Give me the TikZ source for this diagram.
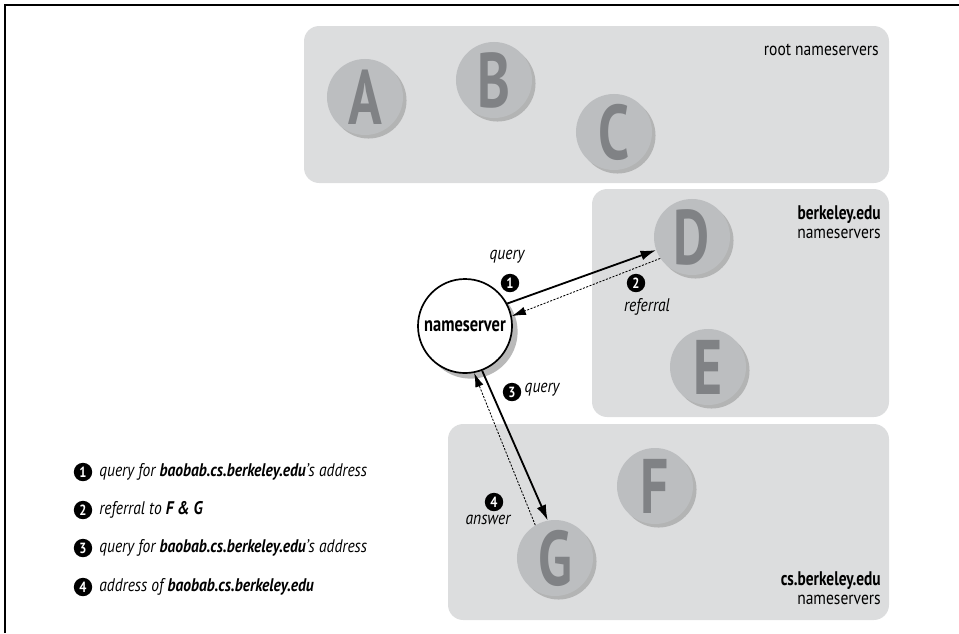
\documentclass[tikz,border=0pt]{standalone}
\usepackage{fontspec}
\setmainfont{PT Sans}[FakeStretch=0.85]
\newfontfamily\letterfont{PT Sans}[FakeStretch=0.72]
\newfontfamily\zonefont{PT Sans}[FakeStretch=0.78]
\usepackage{tikz}
\usetikzlibrary{arrows.meta, shadows}
\definecolor{boxgray}{HTML}{DCDDDE}
\definecolor{srvgray}{HTML}{BCBEC0}
\definecolor{lettergray}{HTML}{808285}
\newcommand{\host}{\bfseries baobab.cs.berkeley.edu}

\begin{document}
\begin{tikzpicture}
    [
        x=0.025cm, y=-0.025cm,
        zone/.style = {fill=boxgray, rounded corners=0.38cm},
        server/.style = {circle, fill=srvgray, minimum size=1.9cm, inner sep=0pt, text=lettergray, font=\letterfont\fontsize{55}{55}\selectfont\bfseries, drop shadow={shadow xshift=2.5pt, shadow yshift=-2.5pt, fill=black!45, opacity=0.5}},
        resolver/.style = {circle, draw, fill=white, line width=1.2pt, minimum size=2.35cm, inner sep=0pt, font=\zonefont\fontsize{15}{15}\selectfont\bfseries, drop shadow={shadow xshift=4pt, shadow yshift=-4pt, fill=black!50, opacity=0.55}},
        badge/.style = {circle, fill=black, text=white, minimum size=0.46cm, inner sep=0pt, font=\fontsize{10.5}{10.5}\selectfont\bfseries},
        zonelabel/.style = {anchor=east, inner sep=0pt, font=\fontsize{13}{13.5}\selectfont},
        msg/.style = {font=\fontsize{13}{13}\selectfont\itshape, inner sep=1pt},
        item/.style = {anchor=west, inner sep=0pt, font=\fontsize{13}{13}\selectfont\itshape},
        ask/.style = {line width=1.3pt, -{Latex[length=11pt, width=7pt]}},
        reply/.style = {line width=0.6pt, dash pattern=on 1.5pt off 1pt, -{Latex[length=10pt, width=6pt]}},
    ]

    \useasboundingbox (0,0) rectangle (959,633);
    \draw[line width=1.5pt] (5,633) -- (5,5) -- (959,5);

    \fill[zone] (304,26) rectangle (889,183);
    \fill[zone] (592,189) rectangle (889,417);
    \fill[zone] (448,424) rectangle (889,620);

    \node[zonelabel] (rootlbl) at (879,50) {root nameservers};
    \node[zonelabel, align=right] (edulbl) at (881,222) {{\zonefont\fontsize{14}{14}\selectfont\bfseries berkeley.edu}\\nameservers};
    \node[zonelabel, align=right] (cslbl) at (881,588) {{\zonefont\fontsize{14}{14}\selectfont\bfseries cs.berkeley.edu}\\nameservers};

    \node[server] (A) at (365,97)  {A};
    \node[server] (B) at (494,80)  {B};
    \node[server] (C) at (614,132) {C};
    \node[server] (D) at (692,237) {D};
    \node[server] (E) at (708,367) {E};
    \node[server] (F) at (655,486) {F};
    \node[server] (G) at (555,558) {G};

    \node[resolver] (ns) at (465,326) {nameserver};

    \draw[ask] (ns.28) -- (D.200);
    \draw[reply] (D.214) -- (ns.12);
    \draw[ask] (ns.291) -- (G.101);
    \draw[reply] (G.121) -- (ns.281);

    \node[msg] (q1) at (507,257) {query};
    \node[badge] (b1) at (510,283) {1};
    \node[badge] (b2) at (636,283) {2};
    \node[msg] (r2) at (647,307) {referral};
    \node[badge] (b3) at (512,392) {3};
    \node[msg, anchor=west] (q3) at (523,390) {query};
    \node[badge] (b4) at (494,502) {4};
    \node[msg] (a4) at (488,520) {answer};

    \node[badge] (l1) at (83,472) {1};
    \node[badge] (l2) at (83,510) {2};
    \node[badge] (l3) at (83,548) {3};
    \node[badge] (l4) at (83,587) {4};
    \node[item] (t1) at (99,472) {query for {\host}'s address};
    \node[item] (t2) at (99,510) {referral to {\bfseries F \& G}};
    \node[item] (t3) at (99,548) {query for {\host}'s address};
    \node[item] (t4) at (99,587) {address of {\host}};
\end{tikzpicture}
\end{document}
